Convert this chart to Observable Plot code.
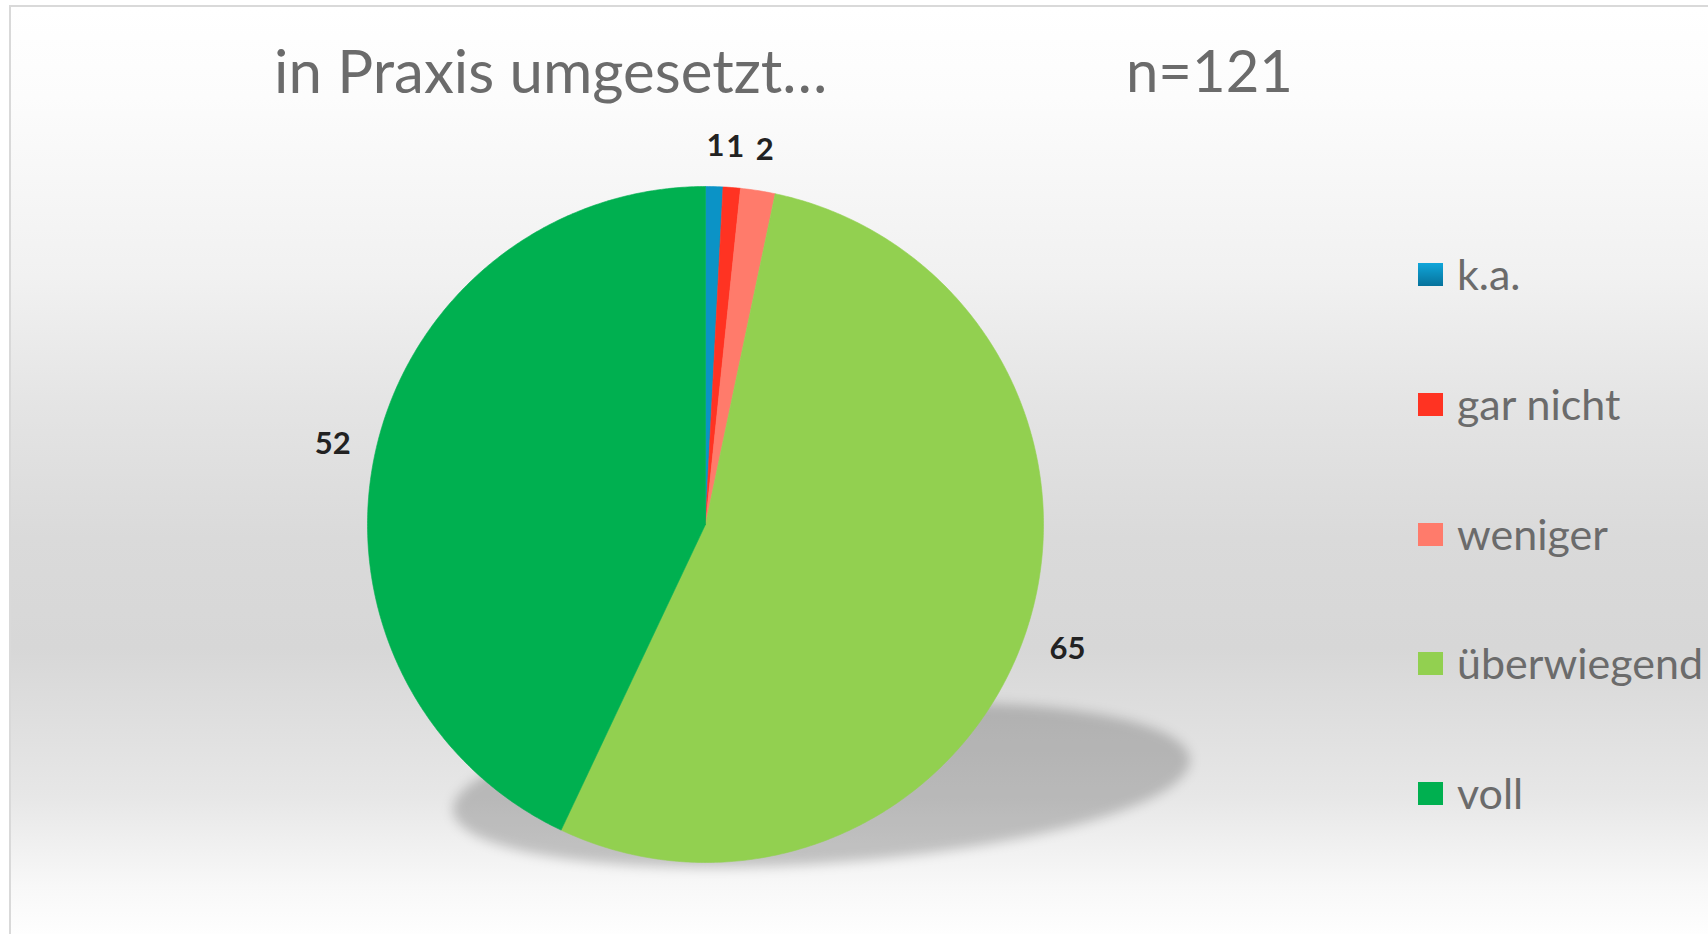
<!DOCTYPE html>
<html>
<head>
<meta charset="utf-8">
<script src="https://cdn.jsdelivr.net/npm/d3@7"></script>
<script src="https://cdn.jsdelivr.net/npm/@observablehq/plot@0.6"></script>
<style>
  body { margin: 0; background: #fff; }
  #wrap { position: relative; width: 1708px; height: 934px; overflow: hidden; background: #fff; font-family: Lato, "Open Sans", sans-serif; }
  #panel { position: absolute; left: 9px; top: 5px; width: 1720px; height: 935px; border: 2px solid #d9d9d9;
    background: linear-gradient(to bottom, #ffffff 0px, #fcfcfc 90px, #f1f1f1 270px, #e4e4e4 400px, #dadada 530px, #d7d7d7 640px, #e7e7e7 790px, #f8f8f8 880px, #ffffff 935px); }
  .title { position: absolute; top: 40px; font-size: 60px; line-height: 60px; color: #6b6b6b; white-space: nowrap; }
  #chart { position: absolute; left: 0; top: 0; }
  #legend { position: absolute; left: 1418px; top: 0; }
  .row { position: absolute; left: 0; display: flex; align-items: center; height: 50px; white-space: nowrap; }
  .sw { width: 25px; height: 23px; margin-right: 14px; flex: none; }
  .lab { font-size: 43px; line-height: 50px; color: #6b6b6b; }
</style>
</head>
<body>
<div id="wrap">
  <div id="panel"></div>
  <div class="title" id="title" style="left:274px"></div>
  <div class="title" id="ntext" style="left:1126px; font-size:58px"></div>
  <div id="chart"></div>
  <div id="legend"></div>
</div>
<script>
// ---- data ----
const categories = ["k.a.", "gar nicht", "weniger", "überwiegend", "voll"];
const values = [1, 1, 2, 65, 52];
const colors = ["#0b93c6", "#ff3322", "#ff7b6b", "#92d050", "#00b050"];
const titleText = "in Praxis umgesetzt…";
const nText = "n=121";

// ---- layout constants ----
const W = 1708, H = 934;
const CX = 705, CY = 524, R = 338;
const labelR = 1.13;

document.getElementById("title").textContent = titleText;
document.getElementById("ntext").textContent = nText;

// pie geometry from data
const arcs = d3.pie().sort(null).value(d => d)(values);
const slicePts = [];
const labels = [];
arcs.forEach((a, i) => {
  const cat = categories[i];
  slicePts.push({cat, x: 0, y: 0});
  const n = Math.max(4, Math.ceil((a.endAngle - a.startAngle) / (Math.PI / 360)));
  for (let k = 0; k <= n; k++) {
    const t = a.startAngle + (a.endAngle - a.startAngle) * k / n;
    slicePts.push({cat, x: Math.sin(t), y: Math.cos(t)});
  }
  slicePts.push({cat, x: 0, y: 0});
  const m = (a.startAngle + a.endAngle) / 2;
  labels.push({cat, v: String(values[i]), x: labelR * Math.sin(m), y: labelR * Math.cos(m)});
});

// shadow ellipse (decoration, in pie-radius units)
const sh = {cx: 0.343, cy: -0.77, rx: 1.09, ry: 0.23, rot: 4 * Math.PI / 180};
const shadowPts = d3.range(0, 361, 2).map(deg => {
  const t = deg * Math.PI / 180;
  const ex = sh.rx * Math.cos(t), ey = sh.ry * Math.sin(t);
  return {s: "shadow", x: sh.cx + ex * Math.cos(sh.rot) - ey * Math.sin(sh.rot), y: sh.cy + ex * Math.sin(sh.rot) + ey * Math.cos(sh.rot)};
});

const plot = Plot.plot({
  width: W, height: H, margin: 0,
  x: {domain: [-1, 1], range: [CX - R, CX + R], axis: null},
  y: {domain: [-1, 1], range: [CY + R, CY - R], axis: null},
  color: {domain: categories, range: colors},
  style: {background: "transparent", overflow: "visible"},
  marks: [
    Plot.line(shadowPts, {x: "x", y: "y", z: "s", fill: "#000000", fillOpacity: 0.2, stroke: "#000000", strokeOpacity: 0.2, strokeWidth: 1}),
    Plot.line(slicePts, {x: "x", y: "y", z: "cat", fill: "cat", stroke: "cat", strokeWidth: 0.6, curve: "linear"}),
    Plot.text(labels, {x: "x", y: "y", dy: 3, text: "v", fontSize: 31, fontWeight: "bold", fill: "#222", fontFamily: "Lato"})
  ]
});
document.getElementById("chart").appendChild(plot);

// blur the shadow (first line group)
const svg = plot.tagName.toLowerCase() === "svg" ? plot : plot.querySelector("svg");
const lineGroups = svg.querySelectorAll('g[aria-label="line"]');
if (lineGroups.length > 1) lineGroups[0].style.filter = "blur(6px)";

// legend
const rowCenters = [274, 404, 534, 663, 793];
const leg = document.getElementById("legend");
categories.forEach((c, i) => {
  const row = document.createElement("div");
  row.className = "row";
  row.style.top = (rowCenters[i] - 25) + "px";
  const sw = document.createElement("div");
  sw.className = "sw";
  sw.style.background = i === 0 ? "linear-gradient(#10a6da, #06729b)" : colors[i];
  const lab = document.createElement("div");
  lab.className = "lab";
  lab.textContent = c;
  row.appendChild(sw); row.appendChild(lab);
  leg.appendChild(row);
});
</script>
</body>
</html>
